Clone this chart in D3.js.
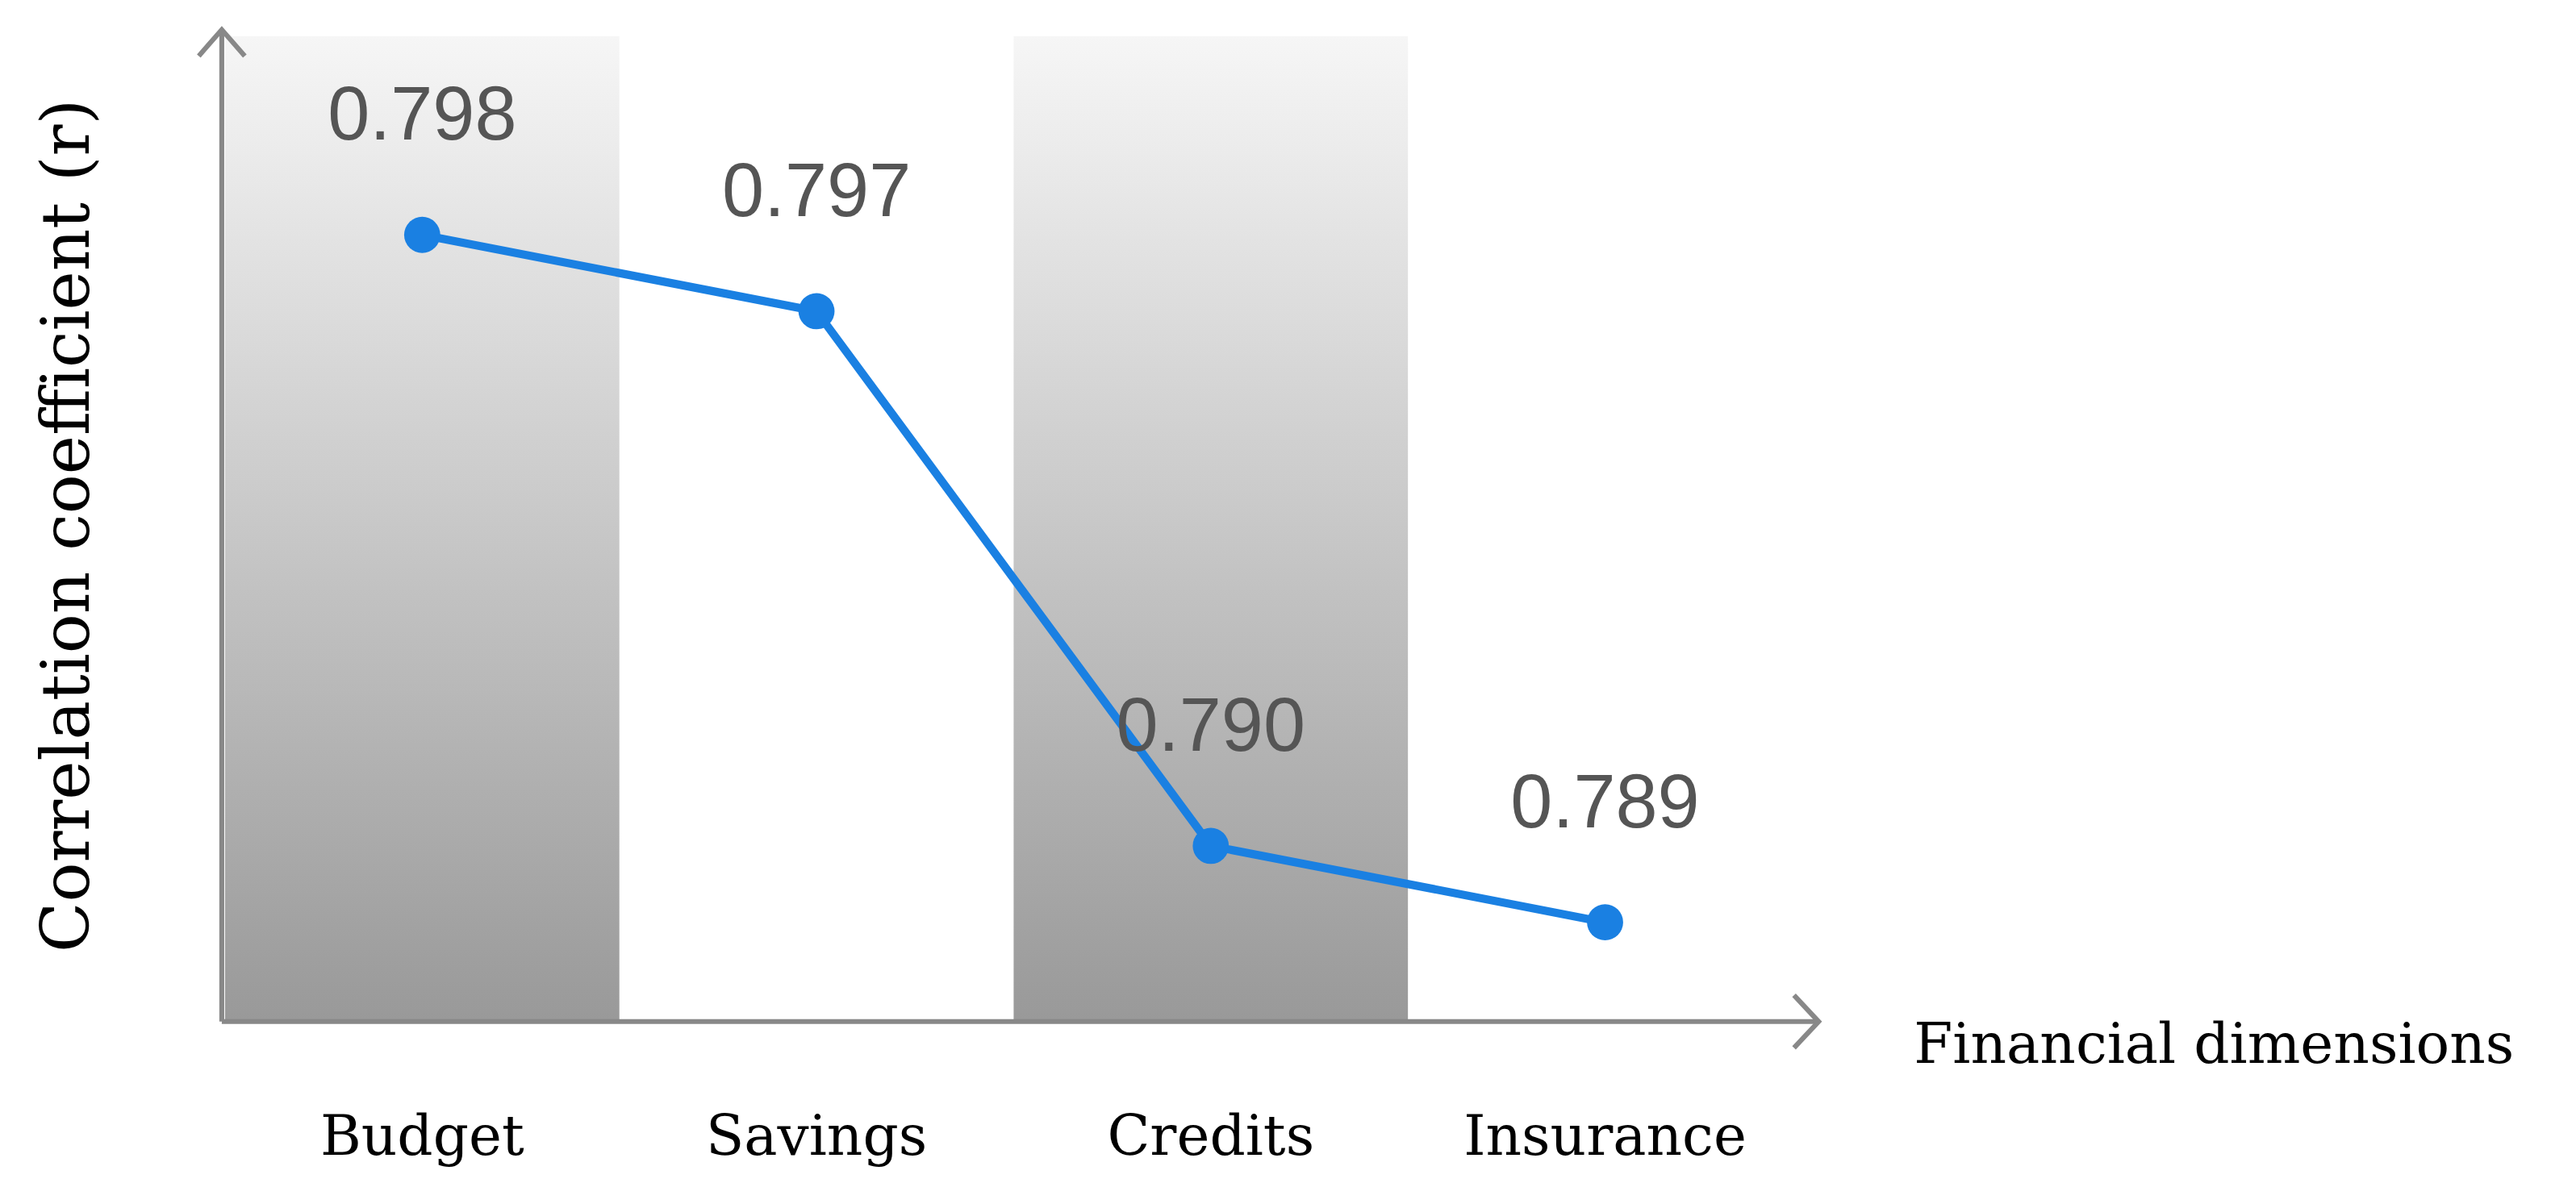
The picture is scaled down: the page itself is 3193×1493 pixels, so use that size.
<!DOCTYPE html>
<html><head><meta charset="utf-8">
<script src="https://cdn.jsdelivr.net/npm/d3@7"></script>
<style>body{margin:0;background:#fff}</style>
</head><body>
<svg id="chart" width="3193" height="1493" viewBox="0 0 1568 733"></svg>
<script>
var categories = ["Budget", "Savings", "Credits", "Insurance"]
var values = [0.798, 0.797, 0.790, 0.789]
var valueLabels = ["0.798", "0.797", "0.790", "0.789"]

var svg = d3.select("#chart")
var x0 = 137, xAxisY = 622

var x = d3.scaleBand().domain(categories).range([x0, x0 + 960])
var y = d3.scaleLinear().domain([0.7877, 0.8006]).range([xAxisY, 22])

var grad = svg.append("defs").append("linearGradient")
  .attr("id", "bandGrad").attr("x1", 0).attr("y1", 0).attr("x2", 0).attr("y2", 1)
grad.append("stop").attr("offset", "0%").attr("stop-color", "#f6f6f6")
grad.append("stop").attr("offset", "100%").attr("stop-color", "#999")

// shaded bands behind every other category
svg.selectAll("rect.band").data(categories.filter(function(d, i){ return i % 2 == 0 }))
  .enter().append("rect").attr("class", "band")
  .attr("x", function(d){ return x(d) }).attr("width", x.bandwidth())
  .attr("y", y.range()[1]).attr("height", xAxisY - y.range()[1])
  .attr("fill", "url(#bandGrad)")

// axes with open arrowheads
var ax = svg.append("g").attr("stroke", "#888").attr("stroke-width", 3).attr("fill", "none")
ax.append("line").attr("x1", 135).attr("y1", 18).attr("x2", 135).attr("y2", xAxisY)
ax.append("line").attr("x1", 135).attr("y1", xAxisY).attr("x2", 1105).attr("y2", xAxisY)
ax.append("path").attr("d", "M121,34 L135,18 L149,34")
ax.append("path").attr("d", "M1092,606 L1107,622 L1092,638")

var data = categories.map(function(c, i){ return {c: c, v: values[i], l: valueLabels[i]} })
var cx = function(d){ return x(d.c) + x.bandwidth() / 2 }

svg.append("path").datum(data)
  .attr("d", d3.line().x(cx).y(function(d){ return y(d.v) }))
  .attr("fill", "none").attr("stroke", "#1a80e2").attr("stroke-width", 5)

svg.selectAll("circle").data(data).enter().append("circle")
  .attr("cx", cx).attr("cy", function(d){ return y(d.v) }).attr("r", 11)
  .attr("fill", "#1a80e2")

svg.selectAll("text.val").data(data).enter().append("text").attr("class", "val")
  .attr("x", cx).attr("y", function(d){ return y(d.v) - 58 })
  .attr("text-anchor", "middle").attr("font-family", "Liberation Sans, Arial")
  .attr("font-size", 46).attr("fill", "#555").text(function(d){ return d.l })

svg.selectAll("text.cat").data(data).enter().append("text").attr("class", "cat")
  .attr("x", cx).attr("y", 703)
  .attr("text-anchor", "middle").attr("font-family", "DejaVu Serif, Liberation Serif")
  .attr("font-size", 34).attr("fill", "#000").text(function(d){ return d.c })

svg.append("text").attr("x", 1165).attr("y", 647)
  .attr("font-family", "DejaVu Serif, Liberation Serif").attr("font-size", 34)
  .text("Financial dimensions")

svg.append("text").attr("transform", "translate(54,320) rotate(-90)")
  .attr("text-anchor", "middle").attr("font-family", "DejaVu Serif, Liberation Serif")
  .attr("font-size", 40).text("Correlation coefficient (r)")
</script>
</body></html>
